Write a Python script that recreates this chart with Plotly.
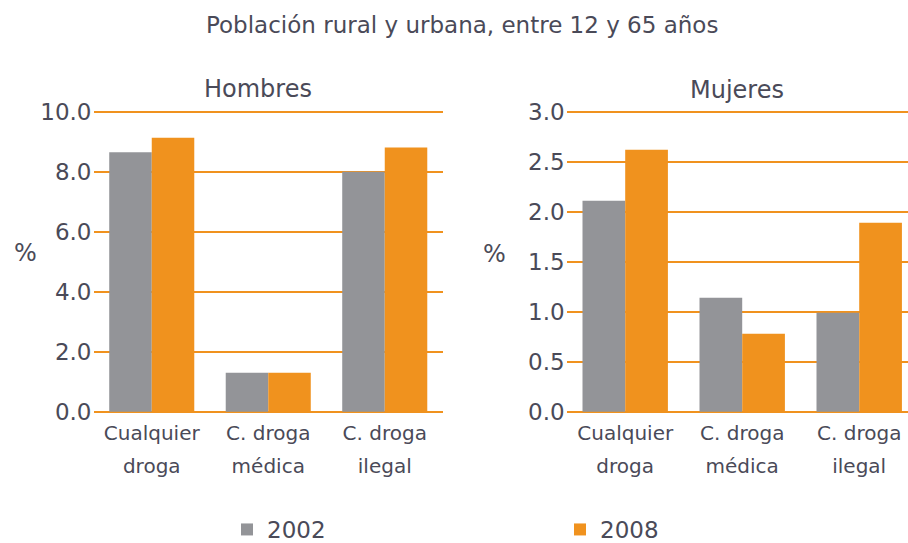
import plotly.graph_objects as go

categories = ["Cualquier droga", "C. droga médica", "C. droga ilegal"]
line1 = ["Cualquier", "C. droga", "C. droga"]
line2 = ["droga", "médica", "ilegal"]
years = ["2002", "2008"]
hombres_2002 = [8.65, 1.3, 8.0]
hombres_2008 = [9.13, 1.3, 8.81]
mujeres_2002 = [2.11, 1.14, 0.99]
mujeres_2008 = [2.62, 0.78, 1.89]
hombres_ticks = [0, 2, 4, 6, 8, 10]
mujeres_ticks = [0, 0.5, 1.0, 1.5, 2.0, 2.5, 3.0]

GRAY = "#939498"
ORANGE = "#F0921E"
TEXT = "#4a4a58"
FONT = "DejaVu Sans"

W, H = 908, 543
MB = 40  # bottom margin (keeps legend from pushing margins)
PH = H - MB  # plot-area height in px


def fy(px):
    """pixel row from top -> paper fraction of the plot area"""
    return 1 - px / PH


fig = go.Figure()

fig.add_trace(go.Bar(x=categories, y=hombres_2002, name=years[0], marker_color=GRAY,
                     marker_line_width=0, xaxis="x", yaxis="y", legendgroup="a"))
fig.add_trace(go.Bar(x=categories, y=hombres_2008, name=years[1], marker_color=ORANGE,
                     marker_line_width=0, xaxis="x", yaxis="y", legendgroup="b"))
fig.add_trace(go.Bar(x=categories, y=mujeres_2002, name=years[0], marker_color=GRAY,
                     marker_line_width=0, xaxis="x2", yaxis="y2", showlegend=False, legendgroup="a"))
fig.add_trace(go.Bar(x=categories, y=mujeres_2008, name=years[1], marker_color=ORANGE,
                     marker_line_width=0, xaxis="x2", yaxis="y2", showlegend=False, legendgroup="b"))
# invisible carriers for second-line tick axes
fig.add_trace(go.Bar(x=categories, y=[None] * 3, xaxis="x3", yaxis="y", showlegend=False, hoverinfo="skip"))
fig.add_trace(go.Bar(x=categories, y=[None] * 3, xaxis="x4", yaxis="y2", showlegend=False, hoverinfo="skip"))

ydom = [fy(414.7), fy(102.7)]
xdom1 = [93.5 / W, 443 / W]
xdom2 = [566.7 / W, 1.0]

tickfont = dict(family=FONT, size=23, color=TEXT)
xfont = dict(family=FONT, size=20, color=TEXT)

common_y = dict(showgrid=True, gridcolor=ORANGE, gridwidth=2, zeroline=False, automargin=False,
                showline=False, ticks="", tickfont=tickfont, ticklabelstandoff=1)
common_x = dict(showline=False, showgrid=False, ticks="", tickfont=xfont, automargin=False,
                zeroline=False)


def note(text, x, y, size):
    return dict(text=text, x=x / W, y=fy(y), xref="paper", yref="paper", showarrow=False,
                xanchor="center", yanchor="middle", font=dict(family=FONT, size=size, color=TEXT))


fig.update_layout(
    width=W, height=H + 8, autosize=False,
    margin=dict(l=0, r=0, t=0, b=MB),
    paper_bgcolor="white", plot_bgcolor="white",
    barmode="group", bargap=0.27, bargroupgap=0,
    font=dict(family=FONT, color=TEXT),
    xaxis=dict(domain=xdom1, anchor="y", range=[-0.5, 2.5], tickvals=categories, ticktext=line1,
               ticklabelstandoff=4, **common_x),
    xaxis3=dict(domain=xdom1, anchor="y", overlaying="x", range=[-0.5, 2.5], tickvals=categories,
                ticktext=line2, ticklabelstandoff=37, side="bottom", **common_x),
    yaxis=dict(domain=ydom, anchor="x", range=[-0.1, 10.3], tickvals=hombres_ticks,
               tickformat=".1f", **common_y),
    xaxis2=dict(domain=xdom2, anchor="y2", range=[-0.5, 2.417], tickvals=categories, ticktext=line1,
                ticklabelstandoff=4, **common_x),
    xaxis4=dict(domain=xdom2, anchor="y2", overlaying="x2", range=[-0.5, 2.417], tickvals=categories,
                ticktext=line2, ticklabelstandoff=37, side="bottom", **common_x),
    yaxis2=dict(domain=ydom, anchor="x2", range=[-0.03, 3.09], tickvals=mujeres_ticks,
                tickformat=".1f", **common_y),
    legend=dict(orientation="h", x=227 / W, xanchor="left", y=fy(530), yanchor="middle",
                entrywidth=288, entrywidthmode="pixels", font=dict(family=FONT, size=23, color=TEXT),
                bgcolor="rgba(0,0,0,0)", traceorder="normal", borderwidth=0),
    annotations=[
        note("Población rural y urbana, entre 12 y 65 años", 462, 25, 23),
        note("Hombres", 258, 89, 24),
        note("Mujeres", 737, 90, 24),
        note("%", 25, 253, 24),
        note("%", 495, 254, 24),
    ],
)

fig.write_html("out.html", config={"responsive": False, "displayModeBar": False},
               post_script="document.body.style.margin='0';document.body.style.overflow='hidden';")
